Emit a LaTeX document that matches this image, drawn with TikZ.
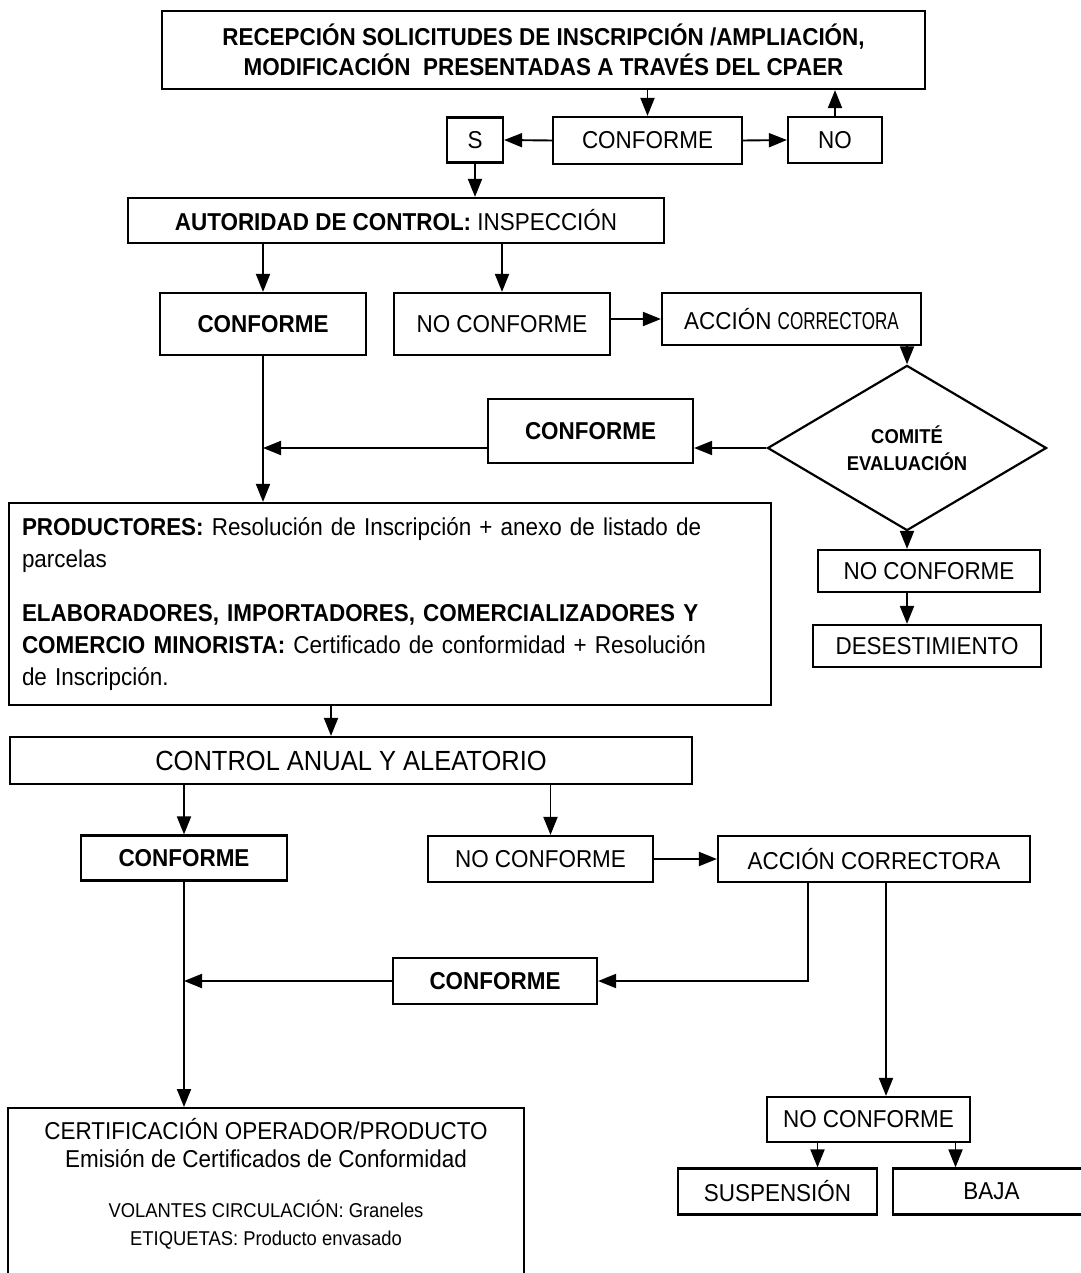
\documentclass[tikz,border=0pt]{standalone}
\usepackage{fontspec}
\setmainfont{Liberation Sans}[FakeStretch=0.92]
\usetikzlibrary{arrows.meta,shapes.geometric}

\newcommand{\regsz}{\fontsize{24.4}{30}\selectfont}
\newcommand{\bigsz}{\fontsize{27.7}{30}\selectfont}
\newcommand{\smlsz}{\fontsize{20}{27}\selectfont}
\newcommand{\volsz}{\fontsize{20}{24}\selectfont}

\tikzset{
  box/.style={draw, line width=2.2pt, inner sep=0pt, font=\regsz},
  arr/.style={line width=1.9pt, -{Triangle[length=18pt,width=14pt]}},
}

\begin{document}
\begin{tikzpicture}[x=1pt,y=-1pt]
                    \useasboundingbox (0,0) rectangle (1080,1273);
                    % solicitud
                    \node[box, minimum width=763pt, minimum height=78pt, align=center, font=\bfseries\regsz] (recep) at (543.5,50)
                        {RECEPCIÓN SOLICITUDES DE INSCRIPCIÓN /AMPLIACIÓN,\\MODIFICACIÓN\ \ PRESENTADAS A TRAVÉS DEL CPAER};
                    \node[box, minimum width=56pt, minimum height=45pt] (s) at (475,140) {S};
                    \node[box, minimum width=189pt, minimum height=47pt] (conf1) at (647.5,140.5) {CONFORME};
                    \node[box, minimum width=94pt, minimum height=46pt] (no) at (835,140) {NO};
                    \draw[arr] (recep.south -| conf1) -- (conf1.north);
                    \draw[arr] (no.north) -- (no.north |- recep.south);
                    \draw[arr] (conf1.west) -- (s.east);
                    \draw[arr] (conf1.east) -- (no.west);
                    % inspeccion
                    \node[box, minimum width=536pt, minimum height=45pt] (aut) at (396,220.5) {\textbf{AUTORIDAD DE CONTROL:} INSPECCIÓN};
                    \node[box, minimum width=206pt, minimum height=62pt, font=\bfseries\regsz] (conf2) at (263,324) {CONFORME};
                    \node[box, minimum width=216pt, minimum height=62pt] (noc2) at (502,324) {NO CONFORME};
                    \node[box, minimum width=259pt, minimum height=52pt] (acc1) at (791.5,319) {ACCIÓN {\addfontfeature{FakeStretch=0.7}CORRECTORA}};
                    \node[diamond, draw, line width=2.2pt, inner sep=0pt, minimum width=279pt, minimum height=128pt, align=center, font=\bfseries\smlsz] (comite) at (907,448) {COMITÉ\\EVALUACIÓN};
                    \node[box, minimum width=205pt, minimum height=64pt, font=\bfseries\regsz] (conf3) at (590.5,431) {CONFORME};
                    \node[box, minimum width=222pt, minimum height=42pt] (noc3) at (929,571) {NO CONFORME};
                    \node[box, minimum width=228pt, minimum height=42pt] (desest) at (927,646) {DESESTIMIENTO};
                    \draw[arr] (s.south) -- (s.south |- aut.north);
                    \draw[arr] (aut.south -| conf2) -- (conf2.north);
                    \draw[arr] (aut.south -| noc2) -- (noc2.north);
                    \draw[arr] (acc1.west -| noc2.east) -- (acc1.west);
                    \draw[arr] (acc1.south -| comite.north) -- (comite.north);
                    \draw[arr] (comite.west) -- (comite.west -| conf3.east);
                    \coordinate (j1) at (conf2.south |- comite.west);
                    \draw[arr] (j1 -| conf3.west) -- (j1);
                    \draw[arr] (comite.south) -- (comite.south |- noc3.north);
                    \draw[arr] (comite.south |- noc3.south) -- (comite.south |- desest.north);
                    % inscripcion
                    \node[box, minimum width=762pt, minimum height=202pt, text width=736pt, align=left, font=\fontsize{24.4}{32}\selectfont] (prod) at (390,604)
                        {\textbf{PRODUCTORES:} Resolución de Inscripción + anexo de listado de\\parcelas\\[22pt]
                         \textbf{ELABORADORES, IMPORTADORES, COMERCIALIZADORES Y}\\\textbf{COMERCIO MINORISTA:} Certificado de conformidad + Resolución\\de Inscripción.};
                    \draw[arr] (conf2.south) -- (conf2.south |- prod.north);
                    % control anual
                    \node[box, minimum width=682pt, minimum height=47pt, font=\bigsz] (ctl) at (351,760.5) {CONTROL ANUAL Y ALEATORIO};
                    \node[box, minimum width=206pt, minimum height=45pt, font=\bfseries\regsz] (conf4) at (184,858) {CONFORME};
                    \node[box, minimum width=225pt, minimum height=46pt] (noc4) at (540.5,859) {NO CONFORME};
                    \node[box, minimum width=312pt, minimum height=46pt] (acc2) at (874,859) {ACCIÓN CORRECTORA};
                    \node[box, minimum width=204pt, minimum height=46pt, font=\bfseries\regsz] (conf5) at (495,981) {CONFORME};
                    \node[box, minimum width=203pt, minimum height=45pt] (noc5) at (868.5,1119.5) {NO CONFORME};
                    \node[box, minimum width=199pt, minimum height=46pt] (susp) at (777.5,1191.5) {SUSPENSIÓN};
                    \node[box, minimum width=197pt, minimum height=46pt] (baja) at (991.5,1191.5) {BAJA};
                    \draw[arr] ([xshift=-20pt]ctl.north |- prod.south) -- ([xshift=-20pt]ctl.north);
                    \draw[arr] (ctl.south -| conf4) -- (conf4.north);
                    \draw[arr] ([xshift=10pt]noc4.north |- ctl.south) -- ([xshift=10pt]noc4.north);
                    \draw[arr] (noc4.east) -- (acc2.west);
                    \coordinate (j2) at ([xshift=-66pt]acc2.south);
                    \draw[arr] (j2) |- (conf5.east);
                    \coordinate (j3) at (conf4.south |- conf5.west);
                    \draw[arr] (conf5.west) -- (j3);
                    \draw[arr] ([xshift=12pt]acc2.south) -- ([xshift=12pt]acc2.south |- noc5.north);
                    \draw[arr] ([xshift=40pt]susp.north |- noc5.south) -- ([xshift=40pt]susp.north);
                    \draw[arr] ([xshift=-36pt]baja.north |- noc5.south) -- ([xshift=-36pt]baja.north);
                    % certificacion
                    \node[box, minimum width=516pt, minimum height=190pt, anchor=north] (cert) at (266,1107) {};
                    \node[anchor=north, align=center, inner sep=0pt, font=\fontsize{24.4}{28}\selectfont] (certtxt) at (266,1118)
                        {CERTIFICACIÓN OPERADOR/PRODUCTO\\Emisión de Certificados de Conformidad\\[22pt]
                         {\volsz VOLANTES CIRCULACIÓN: Graneles}\\{\volsz ETIQUETAS: Producto envasado}};
                    \draw[arr] (conf4.south) -- (conf4.south |- cert.north);
                \end{tikzpicture}
\end{document}
